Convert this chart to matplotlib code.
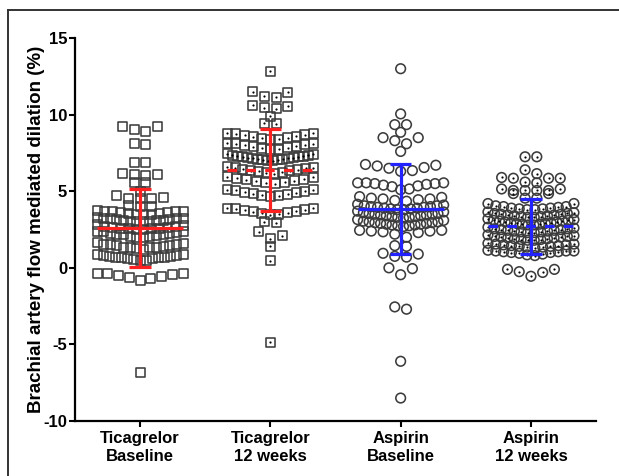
import numpy as np
import matplotlib.pyplot as plt
from matplotlib.lines import Line2D

plt.rcParams['font.family'] = ['Liberation Sans', 'DejaVu Sans']
plt.rcParams['font.weight'] = 'bold'
plt.rcParams['axes.unicode_minus'] = False

groups = ['Ticagrelor\nBaseline', 'Ticagrelor\n12 weeks', 'Aspirin\nBaseline', 'Aspirin\n12 weeks']

# values (FMD %)
tica_base = [
    -6.8,
    -0.8, -0.7, -0.65, -0.55, -0.5, -0.45, -0.4, -0.35, -0.35,
    0.45, 0.5, 0.55, 0.6, 0.6, 0.65, 0.65, 0.7, 0.7, 0.75, 0.75, 0.8, 0.8, 0.85, 0.9,
    1.2, 1.25, 1.3, 1.3, 1.35, 1.35, 1.4, 1.45, 1.45, 1.5, 1.5, 1.55, 1.6, 1.65,
    1.95, 2.0, 2.05, 2.05, 2.1, 2.15, 2.15, 2.2, 2.25, 2.25, 2.3, 2.35, 2.35, 2.4,
    2.5, 2.5, 2.55, 2.55, 2.6, 2.6, 2.65, 2.65, 2.7, 2.7, 2.75, 2.8,
    3.0, 3.0, 3.05, 3.05, 3.1, 3.1, 3.1, 3.15, 3.15, 3.2, 3.2, 3.25, 3.25, 3.3,
    3.5, 3.5, 3.5, 3.55, 3.55, 3.6, 3.6, 3.65, 3.65, 3.7, 3.7, 3.75,
    4.0, 4.0, 4.05,
    4.5, 4.5, 4.55, 4.6, 4.7,
    5.0,
    5.55, 5.6,
    6.05, 6.1, 6.1, 6.15,
    6.85, 6.9,
    8.05, 8.1,
    8.9, 9.0, 9.2, 9.2,
]
tica_12w = [
    -4.85,
    0.45,
    1.4,
    1.9, 2.1, 2.35,
    2.95, 3.0,
    3.45, 3.5, 3.55, 3.6, 3.65, 3.7, 3.75, 3.8, 3.85, 3.9, 3.9,
    4.65, 4.7, 4.75, 4.8, 4.85, 4.9, 4.95, 5.0, 5.05, 5.1, 5.1,
    5.5, 5.55, 5.6, 5.65, 5.7, 5.75, 5.8, 5.85, 5.9, 5.95,
    6.15, 6.2, 6.25, 6.3, 6.35, 6.35, 6.4, 6.45, 6.5, 6.55, 6.55, 6.6,
    7.0, 7.0, 7.05, 7.05, 7.1, 7.1, 7.15, 7.15, 7.2, 7.2, 7.25, 7.25, 7.3, 7.3, 7.35, 7.35, 7.4, 7.45,
    7.7, 7.75, 7.8, 7.85, 7.9, 7.95, 8.0, 8.05, 8.1, 8.1, 8.15,
    8.35, 8.4, 8.45, 8.5, 8.55, 8.6, 8.65, 8.7, 8.75, 8.8, 8.8,
    9.4, 9.45,
    9.9,
    10.4, 10.45, 10.55, 10.6,
    11.15, 11.2, 11.45, 11.5,
    12.85,
]
asp_base = [
    -8.5,
    -6.1,
    -2.7, -2.55,
    -0.45, -0.05, 0.0,
    0.7, 0.75, 0.9, 0.95,
    1.4, 1.45,
    2.0, 2.2, 2.3, 2.35, 2.4, 2.4, 2.45, 2.45,
    2.7, 2.75, 2.75, 2.8, 2.8, 2.85, 2.85, 2.9, 2.9, 2.95, 2.95, 3.0, 3.0, 3.05, 3.1, 3.15,
    3.25, 3.3, 3.3, 3.35, 3.35, 3.4, 3.4, 3.45, 3.45, 3.5, 3.5, 3.55, 3.55, 3.6, 3.65, 3.7,
    3.8, 3.8, 3.85, 3.85, 3.9, 3.9, 3.95, 3.95, 4.0, 4.0, 4.05, 4.05, 4.1, 4.15,
    4.35, 4.4, 4.45, 4.5, 4.5, 4.55, 4.6, 4.65,
    5.1, 5.15, 5.3, 5.35, 5.4, 5.45, 5.5, 5.5, 5.55, 5.55, 5.55,
    6.3, 6.35, 6.5, 6.55, 6.65, 6.7, 6.75,
    7.6,
    8.1, 8.3, 8.5, 8.5,
    8.85,
    9.35, 9.35,
    10.05,
    13.0,
]
asp_12w = [
    -0.55, -0.3, -0.25, -0.1, -0.1,
    0.8, 0.85, 0.9, 0.95, 1.0, 1.0, 1.05, 1.05, 1.1, 1.1, 1.1, 1.15,
    1.3, 1.35, 1.35, 1.4, 1.4, 1.45, 1.45, 1.5, 1.5, 1.55, 1.55, 1.6,
    1.8, 1.8, 1.85, 1.85, 1.9, 1.9, 1.95, 1.95, 2.0, 2.0, 2.05, 2.05, 2.1, 2.15,
    2.3, 2.3, 2.35, 2.35, 2.4, 2.4, 2.45, 2.45, 2.5, 2.5, 2.55, 2.55, 2.6, 2.65,
    2.8, 2.8, 2.85, 2.85, 2.9, 2.9, 2.95, 2.95, 3.0, 3.0, 3.05, 3.05, 3.1, 3.1, 3.15, 3.2,
    3.3, 3.3, 3.35, 3.35, 3.4, 3.4, 3.45, 3.45, 3.5, 3.5, 3.55, 3.55, 3.6, 3.65,
    3.8, 3.8, 3.85, 3.85, 3.9, 3.9, 3.95, 4.0, 4.0, 4.05, 4.2, 4.2,
    4.55, 4.55, 4.85, 4.85,
    5.05, 5.05, 5.05, 5.05, 5.15, 5.15,
    5.55, 5.6, 5.85, 5.85, 5.85, 5.9,
    6.15, 6.4,
    7.25, 7.25,
]

# mean and SD bars
means = [2.6, 6.4, 3.85, 2.7]
sds = [2.55, 2.68, 2.95, 1.8]

data = [tica_base, tica_12w, asp_base, asp_12w]
markers = ['s', 's', 'o', 'o']
dotted = [False, True, False, True]
bar_colors = ['#ff2020', '#ff2020', '#2323ff', '#2323ff']
dashed = [False, True, False, True]


def swarm(vals, h=0.5, step=0.09, half=0.33):
    # GraphPad-like rows: smallest value in the middle, the rest going outwards
    y = np.sort(np.asarray(vals, float))
    x = np.zeros(len(y))
    rows = []
    start = None
    for i, v in enumerate(y):
        if start is None or v >= start + h - 1e-6:
            rows.append([])
            start = v
        rows[-1].append(i)
    for r in rows:
        n = len(r)
        d = step if n < 2 else min(step, 2 * half / (n - 1))
        for k, i in enumerate(r):
            if n % 2:
                m = (k + 1) // 2
                s = 1 if k % 2 == 1 else -1
            else:
                m = k // 2 + 0.5
                s = 1 if k % 2 == 0 else -1
            x[i] = s * m * d
    return x, y


fig = plt.figure(figsize=(6.19, 4.76), dpi=100)
ax = fig.add_axes([0.121, 0.1155, 0.842, 0.8045])

for i, vals in enumerate(data):
    dx, yy = swarm(vals)
    ax.scatter(i + dx, yy, s=42 if markers[i] == 's' else 48, marker=markers[i],
               facecolors='none', edgecolors='#3c3c3c', linewidths=1.15, zorder=2)
    if dotted[i]:
        ax.scatter(i + dx, yy, s=2.5, marker='o', color='black', linewidths=0, zorder=3)

for i in range(4):
    m, sd, c = means[i], sds[i], bar_colors[i]
    kw = dict(color=c, lw=2.3, solid_capstyle='butt', zorder=4)
    if dashed[i]:
        ax.plot([i - 0.33, i + 0.33], [m, m], dashes=(3.0, 2.9), dash_capstyle='butt', **kw)
    else:
        ax.plot([i - 0.33, i + 0.33], [m, m], **kw)
    ax.plot([i, i], [m - sd, m + sd], **kw)
    ax.plot([i - 0.083, i + 0.083], [m + sd, m + sd], **kw)
    ax.plot([i - 0.083, i + 0.083], [m - sd, m - sd], **kw)

ax.set_xlim(-0.5, 3.5)
ax.set_ylim(-10, 15)
ax.set_yticks([-10, -5, 0, 5, 10, 15])
ax.set_xticks(range(4))
ax.set_xticklabels(groups, fontsize=12, fontweight='bold', linespacing=1.25)
ax.tick_params(axis='y', direction='out', length=4.5, width=1.5, labelsize=12, pad=1)
ax.tick_params(axis='x', direction='out', length=4, width=1.5, pad=3)
for sp in ['top', 'right']:
    ax.spines[sp].set_visible(False)
for sp in ['left', 'bottom']:
    ax.spines[sp].set_linewidth(1.6)
    ax.spines[sp].set_color('black')

ax.set_ylabel('Brachial artery flow mediated dilation (%)', fontsize=13.5, fontweight='bold')
ax.yaxis.set_label_coords(-0.058, 0.5)

# thin frame around the figure (right and bottom sides fall outside the image)
fx, fy = 8 / 619, 1 - 10 / 476
fig.add_artist(Line2D([fx, 1.02], [fy, fy], transform=fig.transFigure, color='#333333', lw=1.4))
fig.add_artist(Line2D([fx, fx], [fy, -0.02], transform=fig.transFigure, color='#333333', lw=1.4))

fig.savefig('out.png', dpi=100)
